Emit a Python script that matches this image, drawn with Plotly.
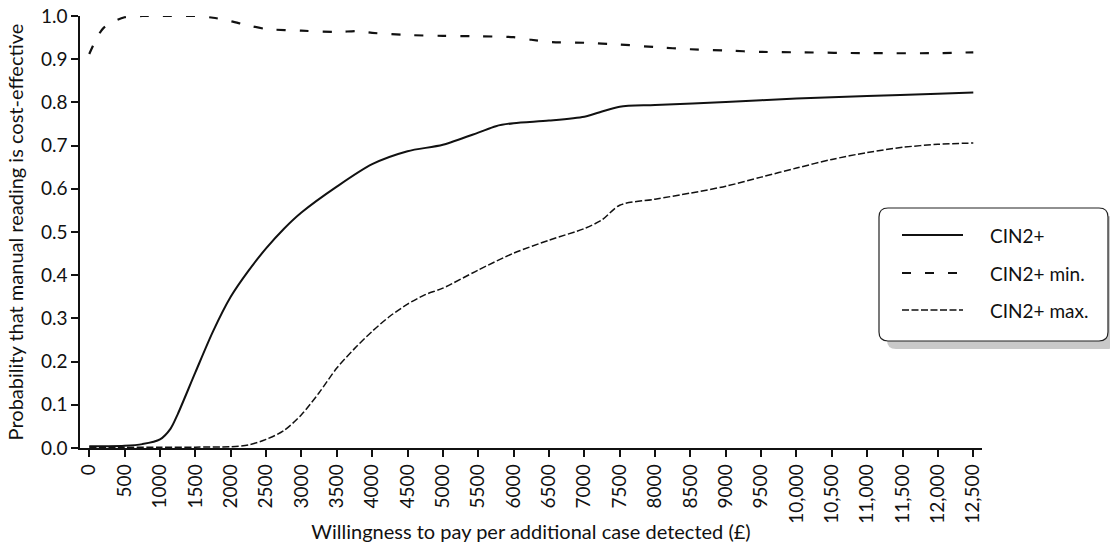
import plotly.graph_objects as go

# ---------------- data ----------------
x_main = [0, 250, 500, 750, 1000, 1150, 1250, 1500, 1750, 2000, 2250, 2500, 2750, 3000,
          3500, 4000, 4500, 5000, 5500, 5750, 6000, 6500, 7000, 7250, 7500, 8000,
          9000, 10000, 11000, 12000, 12500]
y_main = [0.004, 0.004, 0.005, 0.009, 0.02, 0.045, 0.078, 0.175, 0.27, 0.35, 0.41, 0.462,
          0.507, 0.545, 0.605, 0.657, 0.687, 0.702, 0.73, 0.745, 0.752, 0.758, 0.767,
          0.779, 0.79, 0.794, 0.801, 0.809, 0.815, 0.82, 0.823]

x_min = [0, 200, 500, 750, 1000, 1500, 1750, 2000, 2250, 2500, 3000, 3500, 3800, 4000,
         4500, 5000, 5500, 6000, 6250, 6500, 7000, 7500, 8000, 8500, 9000, 9500, 10000,
         11000, 12000, 12500]
y_min = [0.912, 0.972, 0.997, 1.0, 1.0, 1.0, 0.996, 0.988, 0.978, 0.97, 0.966, 0.963,
         0.965, 0.961, 0.956, 0.954, 0.953, 0.951, 0.945, 0.94, 0.938, 0.934, 0.928,
         0.923, 0.92, 0.917, 0.916, 0.914, 0.914, 0.916]

x_max = [0, 500, 1000, 1500, 2000, 2250, 2500, 2750, 3000, 3250, 3500, 3750, 4000, 4250,
         4500, 4750, 5000, 5500, 6000, 6500, 7000, 7250, 7500, 8000, 8500, 9000, 9500,
         10000, 10500, 11000, 11500, 12000, 12500]
y_max = [0.002, 0.002, 0.002, 0.002, 0.003, 0.007, 0.02, 0.04, 0.077, 0.128, 0.185, 0.23,
         0.27, 0.305, 0.333, 0.355, 0.37, 0.412, 0.451, 0.481, 0.508, 0.528, 0.562, 0.576,
         0.59, 0.606, 0.627, 0.648, 0.668, 0.684, 0.696, 0.703, 0.706]

series_names = ["CIN2+", "CIN2+ min.", "CIN2+ max."]

x_tickvals = list(range(0, 12501, 500))
x_ticktext = ["0", "500", "1000", "1500", "2000", "2500", "3000", "3500", "4000", "4500",
              "5000", "5500", "6000", "6500", "7000", "7500", "8000", "8500", "9000", "9500",
              "10,000", "10,500", "11,000", "11,500", "12,000", "12,500"]
y_tickvals = [0.0, 0.1, 0.2, 0.3, 0.4, 0.5, 0.6, 0.7, 0.8, 0.9, 1.0]

# ---------------- layout geometry ----------------
W, H = 1110, 544
ML, MR, MT, MB = 80, 128, 16, 96
PW, PH = W - ML - MR, H - MT - MB
FONT = "Lato, 'Open Sans', sans-serif"
FS = 19
FT = 20
INK = "#111111"


def px(x):
    return (x - ML) / PW


def py(y):
    return (H - MB - y) / PH


def rounded_path(x0, y0, x1, y1, r):
    rx, ry = r / PW, r / PH
    X0, X1, Y0, Y1 = px(x0), px(x1), py(y0), py(y1)  # Y0 top, Y1 bottom
    return (f"M{X0 + rx},{Y0} L{X1 - rx},{Y0} Q{X1},{Y0} {X1},{Y0 - ry} "
            f"L{X1},{Y1 + ry} Q{X1},{Y1} {X1 - rx},{Y1} L{X0 + rx},{Y1} "
            f"Q{X0},{Y1} {X0},{Y1 + ry} L{X0},{Y0 - ry} Q{X0},{Y0} {X0 + rx},{Y0} Z")


styles = [
    dict(color=INK, width=2.0, dash="solid"),
    dict(color=INK, width=2.2, dash="9px,14px"),
    dict(color=INK, width=1.5, dash="7px,2.5px"),
]

fig = go.Figure()
for xs, ys, name, st in zip([x_main, x_min, x_max], [y_main, y_min, y_max], series_names, styles):
    fig.add_trace(go.Scatter(x=xs, y=ys, name=name, mode="lines",
                             line=dict(shape="spline", smoothing=0.8, **st),
                             showlegend=False, cliponaxis=False))

# legend drawn as a rounded box with shadow
shapes = [
    dict(type="path", xref="paper", yref="paper", path=rounded_path(887, 216, 1116, 349, 9),
         fillcolor="#c9c9c9", line=dict(width=0), layer="above"),
    dict(type="path", xref="paper", yref="paper", path=rounded_path(879, 208, 1108, 341, 9),
         fillcolor="white", line=dict(color="#222222", width=1.2), layer="above"),
]
annotations = []
leg_rows = [235, 273, 310]
for name, st, ry in zip(series_names, styles, leg_rows):
    shapes.append(dict(type="line", xref="paper", yref="paper", x0=px(902), x1=px(963),
                       y0=py(ry), y1=py(ry), layer="above",
                       line=dict(color=st["color"], width=st["width"], dash=st["dash"])))
    annotations.append(dict(xref="paper", yref="paper", x=px(988), y=py(ry), text=name,
                            showarrow=False, xanchor="left", yanchor="middle",
                            font=dict(family=FONT, size=FS, color=INK)))

fig.update_layout(
    width=W, height=H,
    margin=dict(l=ML, r=MR, t=MT, b=MB, pad=0),
    paper_bgcolor="white", plot_bgcolor="white",
    font=dict(family=FONT, size=FS, color=INK),
    shapes=shapes, annotations=annotations,
    xaxis=dict(range=[-131, 12623], tickvals=x_tickvals, ticktext=x_ticktext,
               tickangle=-90, ticks="outside", ticklen=7, tickwidth=1.5, tickcolor=INK,
               showline=True, linecolor=INK, linewidth=1.5, showgrid=False, zeroline=False,
               automargin=False,
               tickfont=dict(family=FONT, size=FS, color=INK),
               title=dict(text="Willingness to pay per additional case detected (£)",
                          font=dict(family=FONT, size=FT, color=INK), standoff=2)),
    yaxis=dict(range=[0, 1.0], tickvals=y_tickvals, tickformat=".1f",
               ticks="outside", ticklen=7, tickwidth=1.5, tickcolor=INK,
               showline=True, linecolor=INK, linewidth=1.5, showgrid=False, zeroline=False,
               automargin=False,
               tickfont=dict(family=FONT, size=FS, color=INK),
               title=dict(text="Probability that manual reading is cost-effective",
                          font=dict(family=FONT, size=FT, color=INK), standoff=12)),
)

fig.write_html("out.html")
